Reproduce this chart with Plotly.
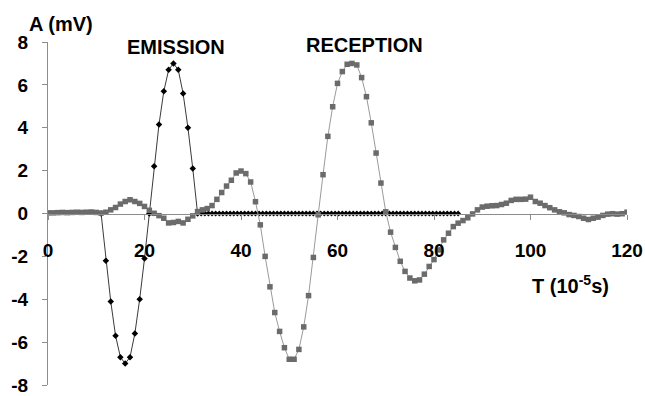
import plotly.graph_objects as go

# Emission pulse: one sine period sampled every 1e-5 s, then a flat tail
emission_t = [11, 12, 13, 14, 15, 16, 17, 18, 19, 20, 21,
              22, 23, 24, 25, 26, 27, 28, 29, 30, 31]
emission_a = [0.0, -2.2, -4.1, -5.7, -6.7, -7.0, -6.7, -5.6, -4.0, -2.1, 0.0,
              2.2, 4.15, 5.7, 6.7, 7.0, 6.7, 5.6, 4.0, 2.1, 0.0]
# flat tail after the pulse, sampled more densely
tail_t = [31 + 0.75 * k for k in range(1, 73)]
tail_a = [0.0] * len(tail_t)

# Received signal, sampled every 1e-5 s from 0 to 120
reception_t = list(range(0, 121))
reception_a = [
    0.03, 0.03, 0.04, 0.05, 0.04, 0.05, 0.06, 0.05, 0.06, 0.07,   # 0-9
    0.05, 0.02, 0.06, 0.17, 0.28, 0.44, 0.56, 0.64, 0.56, 0.47,   # 10-19
    0.33, 0.15, 0.01, -0.10, -0.22, -0.44, -0.42, -0.37, -0.44, -0.27,  # 20-29
    -0.11, 0.09, 0.17, 0.23, 0.37, 0.66, 0.98, 1.28, 1.55, 1.89,  # 30-39
    1.98, 1.86, 1.47, 0.55, -0.53, -2.00, -3.42, -4.62, -5.50, -6.26,  # 40-49
    -6.80, -6.80, -6.34, -5.29, -3.83, -2.05, -0.06, 1.81, 3.60, 4.98,  # 50-59
    6.07, 6.62, 6.96, 7.00, 6.93, 6.34, 5.45, 4.23, 2.82, 1.42,   # 60-69
    0.08, -0.87, -1.58, -2.23, -2.70, -3.01, -3.14, -3.10, -2.83, -2.47,  # 70-79
    -2.15, -1.70, -1.23, -0.92, -0.61, -0.45, -0.33, -0.20, -0.02, 0.17,  # 80-89
    0.30, 0.34, 0.36, 0.37, 0.42, 0.48, 0.61, 0.66, 0.66, 0.67,   # 90-99
    0.76, 0.56, 0.48, 0.37, 0.27, 0.17, 0.08, 0.03, -0.05, -0.09,  # 100-109
    -0.14, -0.22, -0.28, -0.22, -0.17, -0.09, -0.03, -0.01, -0.03, -0.01,  # 110-119
    0.06,                                                          # 120
]
assert len(reception_a) == len(reception_t)

x_ticks = [0, 20, 40, 60, 80, 100, 120]
y_ticks = [-8, -6, -4, -2, 0, 2, 4, 6, 8]

FONT = "Liberation Sans"
AXIS_GREY = "#8c8c8c"

fig = go.Figure()

fig.add_trace(go.Scatter(
    x=emission_t, y=emission_a, mode="lines+markers",
    line=dict(color="#3a3a3a", width=1),
    marker=dict(symbol="diamond", size=5, color="#000000"),
    showlegend=False, hoverinfo="skip",
))
fig.add_trace(go.Scatter(
    x=tail_t, y=tail_a, mode="markers",
    marker=dict(symbol="diamond", size=4.5, color="#000000"),
    showlegend=False, hoverinfo="skip",
))
fig.add_trace(go.Scatter(
    x=reception_t, y=reception_a, mode="lines+markers",
    line=dict(color="#9a9a9a", width=1),
    marker=dict(symbol="square", size=5.5, color="#6b6b6b"),
    showlegend=False, hoverinfo="skip",
))

tick_font = dict(family=FONT, size=19, color="#000000", weight="bold")

fig.update_layout(
    width=645, height=396,
    margin=dict(l=48, r=18, t=42, b=11, autoexpand=False),
    paper_bgcolor="white", plot_bgcolor="white",
    font=dict(family=FONT, color="#000000"),
    xaxis=dict(
        range=[0, 120], tickvals=x_ticks, ticktext=[str(v) for v in x_ticks],
        showgrid=False, zeroline=False, automargin=False,
        showline=True, linecolor=AXIS_GREY, linewidth=1,
        ticks="outside", ticklen=5, tickcolor=AXIS_GREY, tickwidth=1,
        anchor="free", position=0.5,
        tickfont=tick_font,
        ticklabelstandoff=15,
    ),
    yaxis=dict(
        range=[-8, 8], tickvals=y_ticks, ticktext=[str(v) for v in y_ticks],
        showgrid=False, zeroline=False, automargin=False,
        showline=True, linecolor=AXIS_GREY, linewidth=1,
        ticks="outside", ticklen=5, tickcolor=AXIS_GREY, tickwidth=1,
        tickfont=tick_font,
        ticklabelstandoff=10,
    ),
)

label_font = dict(family=FONT, size=20, color="#000000", weight="bold")
fig.add_annotation(text="A (mV)", xref="paper", yref="paper",
                   x=-0.037, y=1.0, xanchor="left", yanchor="bottom",
                   yshift=5, showarrow=False, font=label_font)
fig.add_annotation(text="EMISSION", x=26.5, y=7.76, xanchor="center", yanchor="middle",
                   showarrow=False, font=label_font)
fig.add_annotation(text="RECEPTION", x=65.6, y=7.85, xanchor="center", yanchor="middle",
                   showarrow=False, font=label_font)
fig.add_annotation(text="T (10<sup>-5</sup>s)", x=108.2, y=-3.32,
                   xanchor="center", yanchor="middle",
                   showarrow=False, font=label_font)

fig.write_html("out.html")
